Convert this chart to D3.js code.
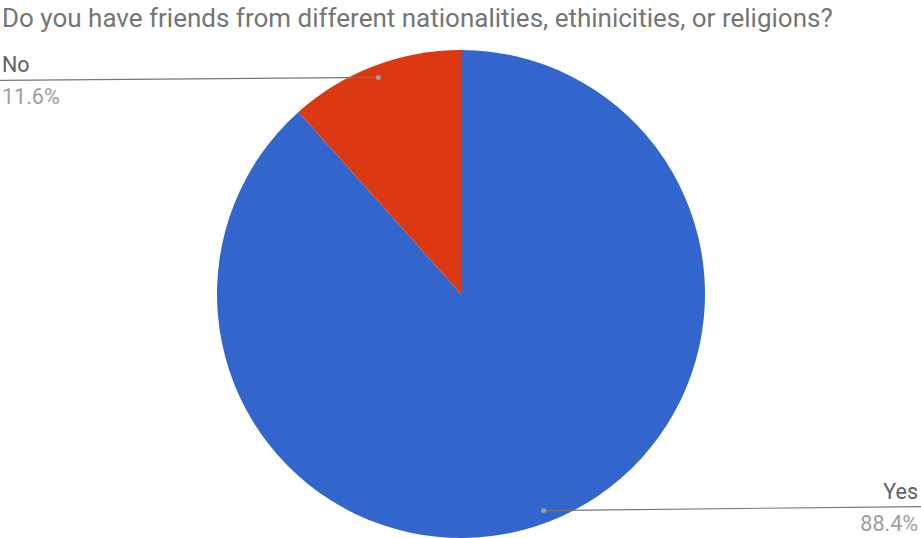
<!DOCTYPE html>
<html>
<head>
<meta charset="utf-8">
<script src="https://cdn.jsdelivr.net/npm/d3@7"></script>
<style>
  body { margin: 0; background: #fff; }
  svg text { font-family: Roboto, "Noto Sans", sans-serif; }
</style>
</head>
<body>
<div id="chart"></div>
<script>
const title = "Do you have friends from different nationalities, ethinicities, or religions?";
const categories = ["Yes", "No"];
const values = [88.4, 11.6];
const colors = ["#3366cc", "#dc3912"];

const width = 921, height = 538;
const cx = 461, cy = 294, radius = 244;

const svg = d3.select("#chart")
    .append("svg")
    .attr("width", width)
    .attr("height", height);

svg.append("text")
    .attr("x", 2)
    .attr("y", 27)
    .attr("font-size", 26)
    .attr("fill", "#757575")
    .text(title);

const data = categories.map((c, i) => ({ name: c, value: values[i], color: colors[i] }));

const pie = d3.pie().sort(null).value(d => d.value);
const arc = d3.arc().innerRadius(0).outerRadius(radius);
const dotArc = d3.arc().innerRadius(radius * 0.95).outerRadius(radius * 0.95);

const g = svg.append("g").attr("transform", `translate(${cx},${cy})`);
const arcs = pie(data);

g.selectAll("path")
    .data(arcs)
    .enter()
    .append("path")
    .attr("d", arc)
    .attr("fill", d => d.data.color);

// leader lines + labels
arcs.forEach(d => {
    const [px, py] = dotArc.centroid(d);
    const ax = cx + px, ay = cy + py;
    const left = ax < cx;
    const endX = left ? 0 : width;
    const lineY = left ? ay + 3 : ay - 4;
    const tx = left ? 2 : width - 3;
    const anchor = left ? "start" : "end";

    svg.append("line")
        .attr("x1", ax).attr("y1", ay)
        .attr("x2", endX).attr("y2", lineY)
        .attr("stroke", "#757575")
        .attr("stroke-width", 1.2);

    svg.append("circle")
        .attr("cx", ax).attr("cy", ay)
        .attr("r", 2.5)
        .attr("fill", "#9e9e9e");

    svg.append("text")
        .attr("x", tx)
        .attr("y", lineY - 8)
        .attr("text-anchor", anchor)
        .attr("font-size", 21.5)
        .attr("fill", "#616161")
        .text(d.data.name);

    svg.append("text")
        .attr("x", tx)
        .attr("y", lineY + 24)
        .attr("text-anchor", anchor)
        .attr("font-size", 21.5)
        .attr("fill", "#9e9e9e")
        .text(d.data.value.toFixed(1) + "%");
});
</script>
</body>
</html>
